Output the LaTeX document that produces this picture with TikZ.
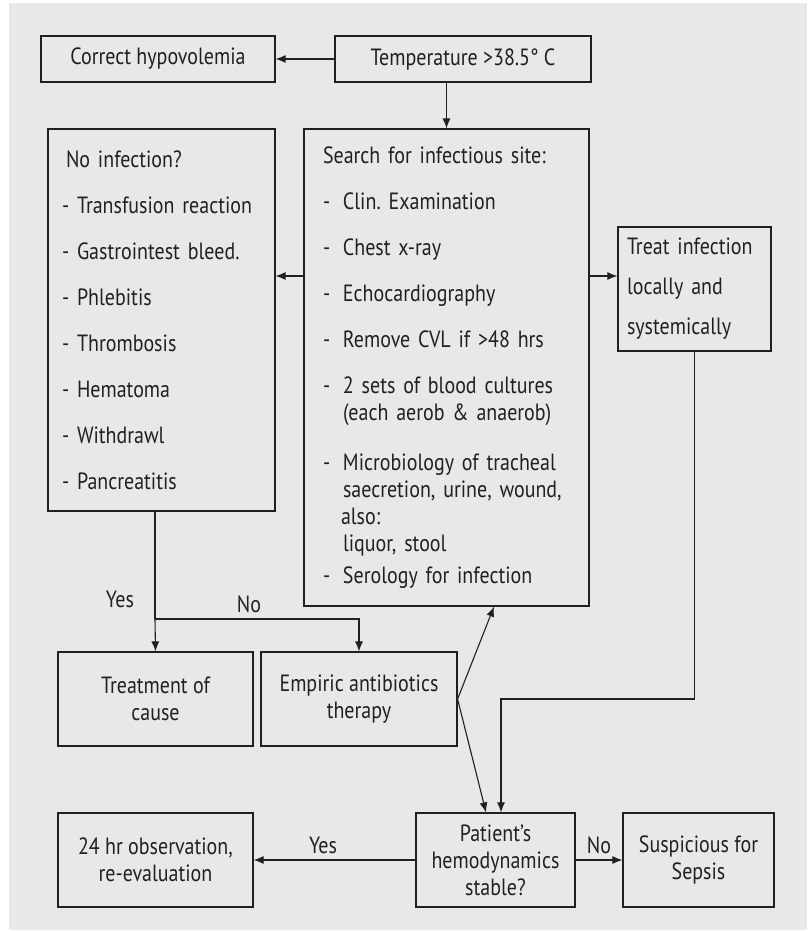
\documentclass[tikz,border=0pt]{standalone}
\usepackage{fontspec}
\setmainfont{PT Sans}[FakeStretch=0.85]
\usetikzlibrary{arrows.meta}
\definecolor{panel}{RGB}{232,232,232}
\definecolor{ink}{RGB}{35,31,32}
\frenchspacing
\newcommand{\nitem}[1]{\mbox{- #1}}
\newcommand{\sitem}[1]{\makebox[20pt][l]{-}\mbox{#1}}
\newcommand{\scont}[1]{\hspace*{20pt}\mbox{#1}}
\tikzstyle{box}=[draw=ink, line width=1.2pt, inner sep=0pt, text=ink, font=\fontsize{23.5}{27}\selectfont]
\tikzstyle{arr}=[-{Latex[length=10pt,width=8pt]}, line width=1.1pt, draw=ink]
\tikzstyle{lbl}=[text=ink, font=\fontsize{23.5}{27}\selectfont]

\begin{document}
\begin{tikzpicture}[x=1pt,y=-1pt]
  \useasboundingbox (0,0) rectangle (807,931);
  \fill[panel] (9,3) rectangle (807,930);

  %% Top row
  \draw (158,59) node[box, minimum width=234pt, minimum height=46pt] (hypo) {Correct hypovolemia};
  \draw (463,59) node[box, minimum width=256pt, minimum height=46pt] (temp) {Temperature >38.5° C};

  %% Middle row
  \draw (161.5,320) node[box, minimum width=227pt, minimum height=382pt, text width=199pt, align=left] (noinf)
    {\hspace*{4pt}No infection?\\[19pt]
     \nitem{Transfusion reaction}\\[19pt]
     \nitem{Gastrointest bleed.}\\[19pt]
     \nitem{Phlebitis}\\[19pt]
     \nitem{Thrombosis}\\[19pt]
     \nitem{Hematoma}\\[19pt]
     \nitem{Withdrawl}\\[19pt]
     \nitem{Pancreatitis}};
  \draw (446.5,367.5) node[box, minimum width=285pt, minimum height=477pt, text width=247pt, align=left] (search)
    {Search for infectious site:\\[19pt]
     \sitem{Clin. Examination}\\[19pt]
     \sitem{Chest x-ray}\\[19pt]
     \sitem{Echocardiography}\\[19pt]
     \sitem{Remove CVL if >48 hrs}\\[19pt]
     \sitem{2 sets of blood cultures}\\
     \scont{(each aerob \& anaerob)}\\[23pt]
     \sitem{Microbiology of tracheal}\\
     \scont{saecretion, urine, wound,}\\
     \hspace*{18pt}also:\\
     \scont{liquor, stool}\\[5pt]
     \sitem{Serology for infection}};
  \draw (694.5,289) node[box, minimum width=153pt, minimum height=124pt, text width=135pt, align=left] (treat)
    {Treat infection\\[13pt] locally and\\[13pt] systemically};
  \coordinate (side) at (446.5,276);

  %% Lower row
  \draw (155.5,699) node[box, minimum width=195pt, minimum height=94pt, align=center] (cause) {Treatment of\\cause};
  \draw (359,699) node[box, minimum width=196pt, minimum height=94pt, align=center] (empiric) {Empiric antibiotics\\therapy};
  \coordinate (split) at (155,619);
  \coordinate (turn) at (501,699);

  %% Bottom row
  \draw (155.5,860) node[box, minimum width=195pt, minimum height=94pt, align=center] (obs) {24 hr observation,\\re-evaluation};
  \draw (495.5,860) node[box, minimum width=159pt, minimum height=94pt, align=center] (patient) {Patient’s\\hemodynamics\\stable?};
  \draw (698.5,860) node[box, minimum width=151pt, minimum height=94pt, align=center] (sepsis) {Suspicious for\\Sepsis};

  %% Connectors
  \draw[arr] (temp.west) -- (hypo.east);
  \draw[arr] (search.north |- temp.south) -- (search.north);
  \draw[arr] (search.west |- side) -- (noinf.east |- side);
  \draw[arr] (search.east |- side) -- (treat.west |- side);

  \draw[line width=1.1pt, draw=ink] (split |- noinf.south) -- (split);
  \draw[arr] (split) -- (cause.north);
  \draw[arr] (split) -| (empiric.north);
  \draw (120,599) node[lbl] (yes1) {Yes};
  \draw (249,604) node[lbl] (no1) {No};

  \draw[arr] (empiric.east) -- ([xshift=47.5pt]search.south);
  \draw[arr] (empiric.east) -- ([xshift=-9.5pt]patient.north);
  \draw[arr] (treat.south) |- (turn) -- (turn |- patient.north);

  \draw[arr] (patient.west) -- (obs.east);
  \draw[arr] (patient.east) -- (sepsis.west);
  \draw (323,845) node[lbl] (yes2) {Yes};
  \draw (599,845) node[lbl] (no2) {No};
\end{tikzpicture}
\end{document}
